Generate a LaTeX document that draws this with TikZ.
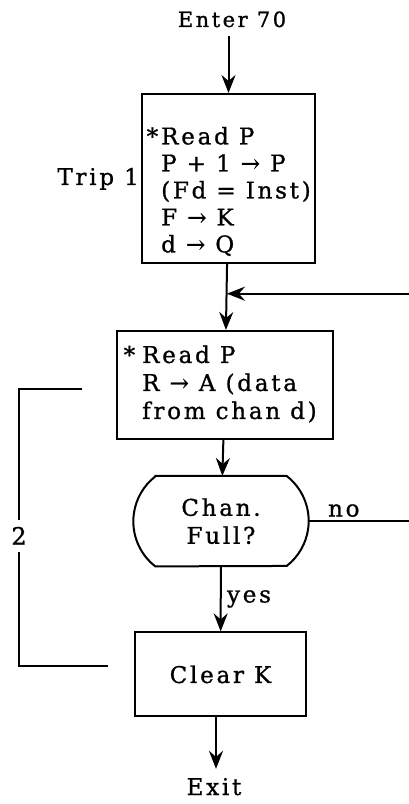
\documentclass[tikz,border=0pt]{standalone}
\usepackage{fontspec}
\setmainfont{DejaVu Serif}[LetterSpace=12, FakeBold=1]
\usetikzlibrary{arrows.meta, positioning, calc}

\begin{document}
\begin{tikzpicture}[
    x=1pt, y=1pt,
    font=\fontsize{23}{28}\selectfont,
    box/.style={rectangle, draw, line width=2pt},
    boxtext/.style={anchor=west, inner sep=0pt, align=left},
    term/.style={inner sep=9pt},
    line/.style={line width=2pt},
    arrow/.style={-{Stealth[length=18pt, width=14pt, inset=6pt]}, line width=2pt}
]
    \useasboundingbox (0,0) rectangle (409,804);

    % Entry point
    \node[term, anchor=base, font=\fontsize{21}{24}\selectfont] (enter) at (232,777) {Enter 70};

    % Trip 1 block
    \node[box, minimum width=173pt, minimum height=169pt] (trip) at (228.5,625.5) {};
    \node[boxtext, font=\fontsize{23}{27}\selectfont] (triptext) at ([xshift=20pt, yshift=-13pt]trip.west)
        {\llap{*\hspace{3pt}}Read P\\P + 1 → P\\(Fd = Inst)\\F → K\\d → Q};
    \node[anchor=base east, inner sep=2pt] (triplbl) at ([yshift=-6.5pt]trip.west) {Trip 1};

    % Read block
    \node[box, minimum width=216pt, minimum height=108pt, below=66pt of trip, xshift=-3.5pt] (read) {};
    \node[boxtext] (readtext) at ([xshift=26pt, yshift=1pt]read.west)
        {\llap{*\hspace{7pt}}Read P\\R → A (data\\from chan d)};

    % Test and exit
    \node[minimum width=175pt, minimum height=90pt, align=center, below=36pt of read, xshift=-4pt] (dec) {Chan.\\Full?};
    \draw[line] ([xshift=22pt]dec.north west) -- ([xshift=-22pt]dec.north east)
        arc[start angle=52.1, end angle=-52.1, radius=57pt] -- ([xshift=22pt]dec.south west)
        arc[start angle=232.1, end angle=127.9, radius=57pt] -- cycle;
    \node[box, minimum width=171pt, minimum height=84pt, below=65pt of dec, xshift=-0.5pt] (clear) {Clear K};
    \node[term, anchor=base] (exit) at (214,9) {Exit};

    \coordinate (join) at ($(trip.south)!0.45!(read.north)$);
    \coordinate (edge) at (412,0);
    \coordinate (lane) at (19,0);
    \coordinate (twotop) at (82,415);
    \coordinate (twobot) at (108,138);

    % Connections
    \draw[arrow] (enter.south -| trip.north) -- (trip);
    \draw[arrow] (trip) -- (read);
    \draw[arrow] (read) -- (dec);
    \draw[arrow] (dec) -- node[right, xshift=2pt] {yes} (clear);
    \draw[arrow] (clear.south -| 216,0) -- (exit.north -| 216,0);
    \draw[arrow] (dec.east) -- node[above, pos=0.34] {no} (dec.east -| edge) |- (join);

    % Loop count
    \draw[line] (twotop) -- (twotop -| lane) -- node[fill=white, pos=0.53, inner sep=7pt, font=\fontsize{24}{28}\selectfont] {2} (twobot -| lane) -- (twobot);
\end{tikzpicture}
\end{document}
